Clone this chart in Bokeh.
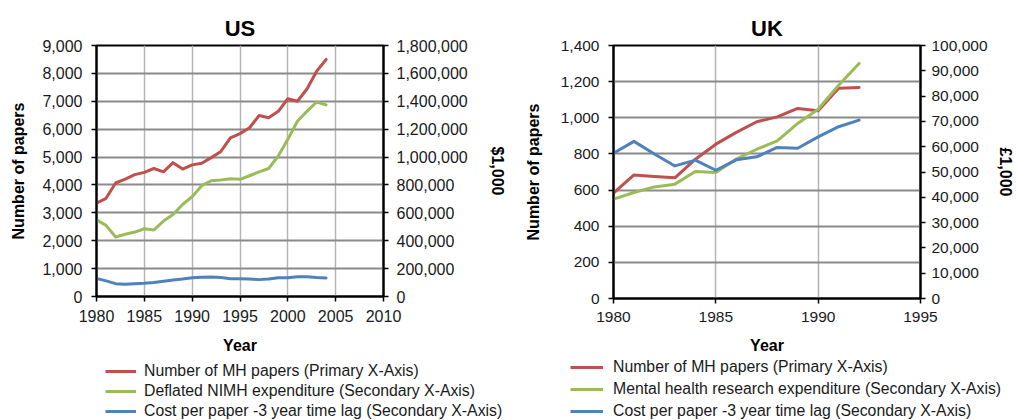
from bokeh.plotting import figure
from bokeh.models import Range1d, LinearAxis, NumeralTickFormatter, FixedTicker, Legend, LegendItem
from bokeh.layouts import row, column
from bokeh.embed import file_html
from bokeh.resources import INLINE

# ---------------- data ----------------
us_years = [1980, 1981, 1982, 1983, 1984, 1985, 1986, 1987, 1988, 1989, 1990, 1991, 1992,
            1993, 1994, 1995, 1996, 1997, 1998, 1999, 2000, 2001, 2002, 2003, 2004]
us_papers = [3350, 3520, 4070, 4210, 4370, 4450, 4590, 4470, 4800, 4570, 4720, 4780, 4980,
             5200, 5690, 5840, 6050, 6490, 6410, 6640, 7090, 7000, 7440, 8070, 8500]
us_nimh = [550000, 510000, 427000, 446000, 462000, 486000, 477000, 541000, 588000, 660000,
           716000, 795000, 830000, 835000, 845000, 840000, 866000, 894000, 918000, 1008000,
           1127000, 1257000, 1328000, 1395000, 1374000]
us_cost = [130000, 112000, 92000, 88000, 92000, 95000, 100000, 109000, 119000, 126000,
           135000, 138000, 140000, 136000, 128000, 128000, 126000, 121000, 126000, 135000,
           135000, 142000, 142000, 136000, 133000]

uk_years = [1980, 1981, 1982, 1983, 1984, 1985, 1986, 1987, 1988, 1989, 1990, 1991, 1992]
uk_papers = [583, 684, 675, 668, 771, 854, 919, 978, 1005, 1052, 1039, 1164, 1168]
uk_mh_exp = [39300, 41900, 44100, 45200, 50200, 49800, 55100, 59000, 62300, 69200, 74800, 84300, 92900]
uk_cost = [57400, 62100, 57100, 52400, 54700, 50700, 54800, 56000, 59700, 59400, 63900, 67900, 70500]

us_xticks = [1980, 1985, 1990, 1995, 2000, 2005, 2010]
us_left_ticks = [0, 1000, 2000, 3000, 4000, 5000, 6000, 7000, 8000, 9000]
us_right_ticks = [0, 200000, 400000, 600000, 800000, 1000000, 1200000, 1400000, 1600000, 1800000]
uk_xticks = [1980, 1985, 1990, 1995]
uk_left_ticks = [0, 200, 400, 600, 800, 1000, 1200, 1400]
uk_right_ticks = [0, 10000, 20000, 30000, 40000, 50000, 60000, 70000, 80000, 90000, 100000]

us_labels = ["Number of MH papers (Primary X-Axis)",
             "Deflated NIMH expenditure (Secondary X-Axis)",
             "Cost per paper -3 year time lag (Secondary X-Axis)"]
uk_labels = ["Number of MH papers (Primary X-Axis)",
             "Mental health research expenditure (Secondary X-Axis)",
             "Cost per paper -3 year time lag (Secondary X-Axis)"]

RED = "#C0504D"
GREEN = "#9BBB59"
BLUE = "#4F81BD"
COLORS = [RED, GREEN, BLUE]
FONT = "Liberation Sans"
TXT = "#1a1a1a"
MAIN_H = 356
LEG_H = 64
NAN = float("nan")


def style_axis(ax, size):
    ax.axis_line_color = "black"
    ax.axis_line_width = 2
    ax.major_tick_line_color = "black"
    ax.major_tick_line_width = 1.5
    ax.major_tick_out = 5
    ax.major_tick_in = 0
    ax.minor_tick_line_color = None
    ax.major_label_text_font = FONT
    ax.major_label_text_font_size = size
    ax.major_label_text_color = TXT
    ax.axis_label_text_font = FONT
    ax.axis_label_text_font_size = "16px"
    ax.axis_label_text_font_style = "bold"
    ax.axis_label_text_color = "black"


def make(title, years, papers, exp, cost, xticks, lticks, rticks, right_label,
         ml, mr, tick_size, l_std, r_lab_std, r_std, year_std):
    p = figure(width=508, height=MAIN_H, output_backend="svg", toolbar_location=None,
               x_range=Range1d(xticks[0], xticks[-1]),
               y_range=Range1d(lticks[0], lticks[-1]),
               min_border_left=ml, min_border_right=mr, min_border_top=45,
               min_border_bottom=MAIN_H - 298)
    p.frame_align = False
    p.background_fill_color = "white"
    p.border_fill_color = "white"
    p.outline_line_color = "black"
    p.outline_line_width = 2
    p.outline_line_alpha = 1

    p.title.text = title
    p.title.align = "center"
    p.title.text_font = FONT
    p.title.text_font_size = "22px"
    p.title.text_font_style = "bold"
    p.title.text_color = "black"

    p.extra_y_ranges = {"right": Range1d(rticks[0], rticks[-1])}

    xa = p.xaxis[0]
    style_axis(xa, tick_size)
    xa.ticker = FixedTicker(ticks=xticks)
    xa.axis_label = "Year"
    xa.major_label_standoff = 8
    xa.axis_label_standoff = year_std

    ya = p.yaxis[0]
    style_axis(ya, tick_size)
    ya.ticker = FixedTicker(ticks=lticks)
    ya.formatter = NumeralTickFormatter(format="0,0")
    ya.axis_label = "Number of papers"
    ya.major_label_standoff = 9
    ya.axis_label_standoff = l_std

    ra = LinearAxis(y_range_name="right", axis_label=right_label)
    style_axis(ra, tick_size)
    ra.ticker = FixedTicker(ticks=rticks)
    ra.formatter = NumeralTickFormatter(format="0,0")
    ra.major_label_standoff = r_lab_std
    ra.axis_label_standoff = r_std
    p.add_layout(ra, "right")

    p.xgrid.ticker = FixedTicker(ticks=xticks)
    p.xgrid.grid_line_color = "#b4b4b4"
    p.xgrid.grid_line_width = 1.5
    p.ygrid.ticker = FixedTicker(ticks=lticks)
    p.ygrid.grid_line_color = "#8a8a8a"
    p.ygrid.grid_line_width = 2

    kw = dict(line_width=3, line_join="round", line_cap="round")
    p.line(years, papers, color=RED, **kw)
    p.line(years, exp, color=GREEN, y_range_name="right", **kw)
    p.line(years, cost, color=BLUE, y_range_name="right", **kw)
    return p


def make_legend(labels, leg_x, leg_y, lh, gw, lstd):
    q = figure(width=508, height=LEG_H, output_backend="svg", toolbar_location=None,
               x_axis_location=None, y_axis_location=None, min_border=0)
    q.frame_align = False
    q.outline_line_color = None
    q.background_fill_color = "white"
    q.border_fill_color = "white"
    q.xgrid.visible = False
    q.ygrid.visible = False
    items = []
    for lab, col in zip(labels, COLORS):
        # key-only renderer: no drawable point, used for the legend swatch
        r = q.line(x=[NAN], y=[NAN], color=col, line_width=3)
        items.append(LegendItem(label=lab, renderers=[r]))
    leg = Legend(items=items, location=(leg_x, leg_y), orientation="vertical",
                 border_line_color=None, background_fill_alpha=0,
                 padding=0, margin=0, spacing=0,
                 label_height=lh, glyph_height=lh, glyph_width=gw,
                 label_standoff=lstd, label_text_font=FONT,
                 label_text_font_size="15.8px", label_text_color=TXT)
    q.add_layout(leg, "center")
    return q


p_us = make("US", us_years, us_papers, us_nimh, us_cost,
            us_xticks, us_left_ticks, us_right_ticks, "$1,000",
            ml=96, mr=124, tick_size="16px", l_std=12, r_lab_std=8, r_std=18,
            year_std=12)
p_uk = make("UK", uk_years, uk_papers, uk_mh_exp, uk_cost,
            uk_xticks, uk_left_ticks, uk_right_ticks, "\u00a31,000",
            ml=105, mr=92, tick_size="15.5px", l_std=16, r_lab_std=6, r_std=6,
            year_std=12)

l_us = make_legend(us_labels, leg_x=105, leg_y=-1, lh=20, gw=31, lstd=8)
l_uk = make_legend(uk_labels, leg_x=62, leg_y=-2, lh=22, gw=33, lstd=10)

layout = row(column(p_us, l_us), column(p_uk, l_uk))
open("out.html", "w").write(file_html(layout, INLINE))
